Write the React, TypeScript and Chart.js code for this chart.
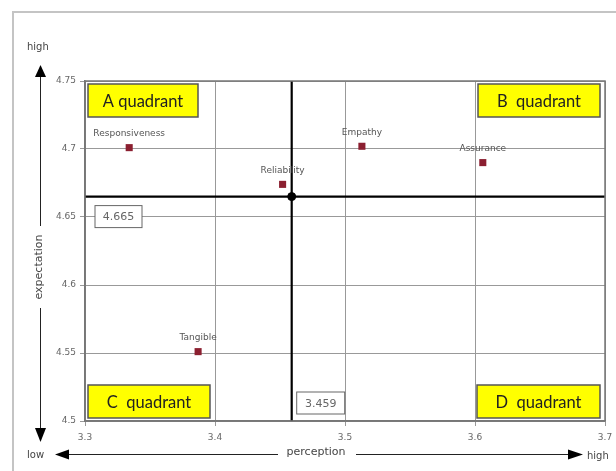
import React, { useEffect, useRef } from "react";
import { Chart, registerables } from "chart.js";

Chart.register(...registerables);

const categories = ["Responsiveness", "Reliability", "Empathy", "Assurance", "Tangible"];
const perception = [3.334, 3.452, 3.513, 3.606, 3.387];
const expectation = [4.701, 4.674, 4.702, 4.69, 4.551];
const meanPerception = 3.459;
const meanExpectation = 4.665;
const xTicks = [3.3, 3.4, 3.5, 3.6, 3.7];
const xTickLabels = ["3.3", "3.4", "3.5", "3.6", "3.7"];
const yTicks = [4.5, 4.55, 4.6, 4.65, 4.7, 4.75];
const yTickLabels = ["4.5", "4.55", "4.6", "4.65", "4.7", "4.75"];
const quadrantLabels = ["A quadrant", "B  quadrant", "C  quadrant", "D  quadrant"];

const SANS = "'DejaVu Sans', sans-serif";
const BOXFONT = "Lato, 'Liberation Sans', sans-serif";

function drawBox(ctx: CanvasRenderingContext2D, x: number, y: number, w: number, h: number, fill: string, stroke: string, lw: number, text: string, font: string, color: string) {
  ctx.save();
  ctx.fillStyle = fill;
  ctx.fillRect(x, y, w, h);
  ctx.strokeStyle = stroke;
  ctx.lineWidth = lw;
  ctx.strokeRect(x, y, w, h);
  ctx.fillStyle = color;
  ctx.font = font;
  ctx.textAlign = "center";
  ctx.textBaseline = "middle";
  ctx.fillText(text, x + w / 2, y + h / 2 + 1);
  ctx.restore();
}

const decor = {
  id: "decor",
  afterDatasetsDraw(chart: any) {
    const { ctx, chartArea: a, scales } = chart;
    const xs = scales.x;
    const ys = scales.y;
    ctx.save();
    // frame
    ctx.strokeStyle = "#777";
    ctx.lineWidth = 1.5;
    ctx.strokeRect(a.left, a.top, a.right - a.left, a.bottom - a.top);

    // point labels
    const meta = chart.getDatasetMeta(0);
    ctx.font = `9px ${SANS}`;
    ctx.fillStyle = "#555";
    ctx.textAlign = "center";
    ctx.textBaseline = "middle";
    meta.data.forEach((el: any, i: number) => {
      ctx.fillText(categories[i], el.x, el.y - 14);
    });
    ctx.restore();

    // quadrant boxes
    const qf = `16.5px ${BOXFONT}`;
    const yellow = "#ffff00";
    drawBox(ctx, a.left + 3, a.top + 3, 110, 33, yellow, "#555", 1.5, quadrantLabels[0], qf, "#222");
    drawBox(ctx, a.right - 127, a.top + 3, 122, 33, yellow, "#555", 1.5, quadrantLabels[1], qf, "#222");
    drawBox(ctx, a.left + 3, a.bottom - 36, 122, 33, yellow, "#555", 1.5, quadrantLabels[2], qf, "#222");
    drawBox(ctx, a.right - 128, a.bottom - 36, 123, 33, yellow, "#555", 1.5, quadrantLabels[3], qf, "#222");

    // value boxes
    const cy = ys.getPixelForValue(meanExpectation);
    const cx = xs.getPixelForValue(meanPerception);
    const vf = `11px ${SANS}`;
    drawBox(ctx, a.left + 10, cy + 9, 47, 22, "#fff", "#666", 1, String(meanExpectation), vf, "#666");
    drawBox(ctx, cx + 5, a.bottom - 29, 48, 22, "#fff", "#666", 1, String(meanPerception), vf, "#666");
  },
  afterDraw(chart: any) {
    const { ctx } = chart;
    ctx.save();
    // outer border
    ctx.strokeStyle = "#c4c4c4";
    ctx.lineWidth = 2;
    ctx.beginPath();
    ctx.moveTo(13, 471);
    ctx.lineTo(13, 12);
    ctx.lineTo(616, 12);
    ctx.stroke();

    ctx.strokeStyle = "#222";
    ctx.fillStyle = "#000";
    ctx.lineWidth = 1;
    // vertical arrow
    ctx.beginPath();
    ctx.moveTo(40.5, 76);
    ctx.lineTo(40.5, 226);
    ctx.moveTo(40.5, 308);
    ctx.lineTo(40.5, 429);
    ctx.stroke();
    ctx.beginPath();
    ctx.moveTo(40.5, 65);
    ctx.lineTo(35, 77);
    ctx.lineTo(46, 77);
    ctx.closePath();
    ctx.fill();
    ctx.beginPath();
    ctx.moveTo(40.5, 442);
    ctx.lineTo(35, 428);
    ctx.lineTo(46, 428);
    ctx.closePath();
    ctx.fill();
    // horizontal arrow
    ctx.beginPath();
    ctx.moveTo(68, 454.5);
    ctx.lineTo(278, 454.5);
    ctx.moveTo(356, 454.5);
    ctx.lineTo(569, 454.5);
    ctx.stroke();
    ctx.beginPath();
    ctx.moveTo(55, 454.5);
    ctx.lineTo(69, 449.5);
    ctx.lineTo(69, 459.5);
    ctx.closePath();
    ctx.fill();
    ctx.beginPath();
    ctx.moveTo(583, 454.5);
    ctx.lineTo(568, 449.5);
    ctx.lineTo(568, 459.5);
    ctx.closePath();
    ctx.fill();

    // texts
    ctx.fillStyle = "#444";
    ctx.font = `10px ${SANS}`;
    ctx.textBaseline = "middle";
    ctx.textAlign = "left";
    ctx.fillText("high", 27, 47);
    ctx.fillText("low", 27, 455);
    ctx.fillText("high", 587, 456);
    ctx.font = `11px ${SANS}`;
    ctx.textAlign = "center";
    ctx.fillText("perception", 316, 452);
    ctx.save();
    ctx.translate(39, 267);
    ctx.rotate(-Math.PI / 2);
    ctx.fillText("expectation", 0, 0);
    ctx.restore();
    ctx.restore();
  },
};

export default function App() {
  const ref = useRef<HTMLCanvasElement | null>(null);
  useEffect(() => {
    if (!ref.current) return;
    const points = perception.map((p, i) => ({ x: p, y: expectation[i] }));
    const chart = new Chart(ref.current, {
      type: "scatter",
      data: {
        datasets: [
          {
            label: "items",
            data: points,
            pointStyle: "rect",
            pointRadius: 5,
            pointBorderWidth: 0,
            backgroundColor: "#8b1f30",
            borderColor: "#8b1f30",
            order: 1,
          },
          {
            label: "vline",
            type: "line",
            data: [
              { x: meanPerception, y: yTicks[0] },
              { x: meanPerception, y: yTicks[yTicks.length - 1] },
            ],
            borderColor: "#000",
            borderWidth: 2.2,
            pointRadius: 0,
            order: 3,
          },
          {
            label: "hline",
            type: "line",
            data: [
              { x: xTicks[0], y: meanExpectation },
              { x: xTicks[xTicks.length - 1], y: meanExpectation },
            ],
            borderColor: "#000",
            borderWidth: 2.2,
            pointRadius: 0,
            order: 3,
          },
          {
            label: "center",
            data: [{ x: meanPerception, y: meanExpectation }],
            pointRadius: 4,
            backgroundColor: "#000",
            borderColor: "#000",
            order: 2,
          },
        ] as any,
      },
      options: {
        animation: false,
        responsive: true,
        maintainAspectRatio: false,
        layout: { padding: { left: 0, top: 81, right: 11, bottom: 0 } },
        plugins: { legend: { display: false }, tooltip: { enabled: false }, title: { display: false } },
        scales: {
          x: {
            type: "linear",
            min: xTicks[0],
            max: xTicks[xTicks.length - 1],
            afterBuildTicks: (s: any) => {
              s.ticks = xTicks.map((v) => ({ value: v }));
            },
            afterFit: (s: any) => {
              s.height = 50;
              s.paddingLeft = 0;
              s.paddingRight = 0;
            },
            ticks: {
              callback: (v: any) => xTickLabels[xTicks.indexOf(Number(v))] ?? "",
              font: { family: SANS, size: 9 },
              color: "#666",
              padding: 6,
              maxRotation: 0,
              autoSkip: false,
            },
            grid: { color: "#999", lineWidth: 1, tickLength: 5 },
            border: { color: "#777", width: 1.5 },
          },
          y: {
            type: "linear",
            min: yTicks[0],
            max: yTicks[yTicks.length - 1],
            afterBuildTicks: (s: any) => {
              s.ticks = yTicks.map((v) => ({ value: v }));
            },
            afterFit: (s: any) => {
              s.width = 85;
              s.paddingTop = 0;
              s.paddingBottom = 0;
            },
            ticks: {
              callback: (v: any) => {
                const i = yTicks.findIndex((t) => Math.abs(t - Number(v)) < 1e-9);
                return i >= 0 ? yTickLabels[i] : "";
              },
              font: { family: SANS, size: 9 },
              color: "#666",
              padding: 4,
              autoSkip: false,
            },
            grid: { color: "#999", lineWidth: 1, tickLength: 5 },
            border: { color: "#777", width: 1.5 },
          },
        },
      },
      plugins: [decor],
    });
    return () => chart.destroy();
  }, []);
  return (
    <div style={{ position: "fixed", left: 0, top: 0, width: 616, height: 471, background: "#fff" }}>
      <canvas ref={ref} />
    </div>
  );
}
